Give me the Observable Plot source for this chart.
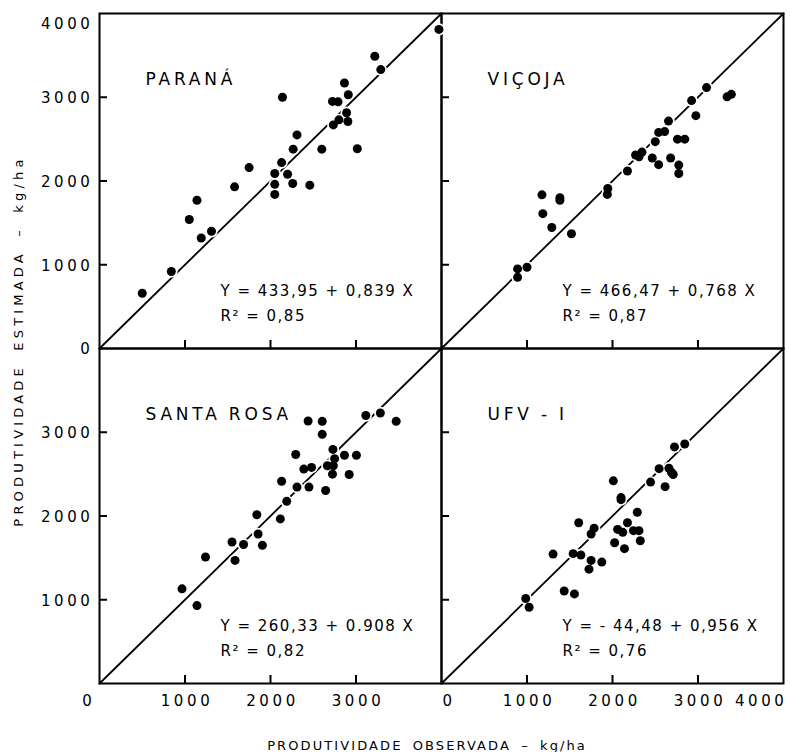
<!DOCTYPE html>
<html>
<head>
<meta charset="utf-8">
<script src="https://cdn.jsdelivr.net/npm/d3@7"></script>
<script src="https://cdn.jsdelivr.net/npm/@observablehq/plot@0.6"></script>
<style>
  html, body { margin: 0; padding: 0; background: #fff; }
  #wrap { position: relative; width: 790px; height: 752px; font-family: "DejaVu Sans", sans-serif; color: #000; }
  #wrap svg { position: absolute; left: 0; top: 0; }
  .axis-title { position: absolute; white-space: nowrap; font-size: 13px; line-height: 1; }
  #ytitle { left: 18px; top: 341px; transform: translate(-50%, -50%) rotate(-90deg); letter-spacing: 4.2px; word-spacing: 5px; }
  #xtitle { left: 427px; top: 745px; transform: translate(-50%, -50%); letter-spacing: 2.1px; word-spacing: 4px; }
  g[aria-description="tick-labels"] text { letter-spacing: 3.6px; }
  g[aria-description="panel-names"] text { letter-spacing: 3.8px; word-spacing: -1px; }
  g[aria-description="equations"] text { letter-spacing: 1.5px; }
</style>
</head>
<body>
<div id="wrap">
  <div id="ytitle" class="axis-title">PRODUTIVIDADE ESTIMADA – kg/ha</div>
  <div id="xtitle" class="axis-title">PRODUTIVIDADE OBSERVADA – kg/ha</div>
</div>
<script>
// ---- Data ----
const panels = ["PARANÁ", "VIÇOJA", "SANTA ROSA", "UFV - I"];
const panelColumn = ["L", "R", "L", "R"];
const panelRow = ["T", "T", "B", "B"];
const equations = ["Y = 433,95 + 0,839 X", "Y = 466,47 + 0,768 X", "Y = 260,33 + 0.908 X", "Y = - 44,48 + 0,956 X"];
const r2Labels = ["R² = 0,85", "R² = 0,87", "R² = 0,82", "R² = 0,76"];

const paranaObserved  = [500, 840, 1050, 1140, 1190, 1310, 1580, 1750, 2050, 2050, 2050, 2130, 2140, 2200, 2260, 2265, 2310, 2460, 2600, 2735, 2725, 2790, 2800, 2865, 2890, 2905, 2910, 3015, 3220, 3290, 3970];
const paranaEstimated = [660, 920, 1540, 1770, 1320, 1400, 1930, 2160, 2090, 1960, 1840, 2220, 3000, 2080, 1970, 2380, 2550, 1950, 2380, 2670, 2950, 2945, 2730, 3170, 2815, 2710, 3030, 2385, 3490, 3330, 3810];

const vicojaObserved  = [890, 890, 1000, 1175, 1185, 1290, 1385, 1385, 1520, 1945, 1940, 2175, 2270, 2310, 2345, 2465, 2500, 2540, 2540, 2610, 2655, 2680, 2760, 2845, 2775, 2775, 2925, 2975, 3100, 3340, 3390];
const vicojaEstimated = [950, 850, 970, 1835, 1610, 1445, 1800, 1770, 1370, 1910, 1840, 2120, 2310, 2290, 2345, 2275, 2470, 2195, 2580, 2590, 2715, 2275, 2500, 2500, 2190, 2090, 2960, 2780, 3115, 3005, 3035];

const santaRosaObserved  = [965, 1140, 1240, 1550, 1585, 1685, 1840, 1855, 1905, 2115, 2130, 2190, 2295, 2310, 2390, 2450, 2440, 2480, 2605, 2605, 2645, 2665, 2730, 2735, 2750, 2725, 2865, 2920, 3005, 3115, 3285, 3470];
const santaRosaEstimated = [1130, 930, 1510, 1690, 1470, 1660, 2015, 1785, 1650, 1965, 2415, 2175, 2735, 2345, 2560, 2345, 3135, 2580, 3130, 2975, 2305, 2600, 2795, 2600, 2685, 2500, 2725, 2495, 2725, 3200, 3230, 3130];

const ufvObserved  = [985, 1025, 1305, 1435, 1555, 1540, 1630, 1605, 1725, 1750, 1750, 1785, 1875, 2010, 2025, 2060, 2120, 2100, 2100, 2140, 2175, 2245, 2310, 2290, 2325, 2445, 2545, 2615, 2660, 2690, 2710, 2725, 2845];
const ufvEstimated = [1015, 910, 1545, 1105, 1070, 1550, 1535, 1920, 1365, 1470, 1785, 1855, 1450, 2420, 1680, 1840, 1805, 2220, 2195, 1610, 1920, 1825, 1825, 2045, 1705, 2405, 2565, 2350, 2570, 2520, 2495, 2825, 2860];

const axisDomain = [0, 4000];            // both axes, also the 1:1 line
const innerTicks = [1000, 2000, 3000];   // inward tick marks on every panel
const xTickLabels = [0, 1000, 2000, 3000, 4000];
const yTickLabels = [0, 1000, 2000, 3000, 4000];

// ---- Build tables ----
const observed = [paranaObserved, vicojaObserved, santaRosaObserved, ufvObserved];
const estimated = [paranaEstimated, vicojaEstimated, santaRosaEstimated, ufvEstimated];
const panelInfo = panels.map((name, i) => ({name, col: panelColumn[i], row: panelRow[i], eq: equations[i] + "\n" + r2Labels[i]}));
const points = panelInfo.flatMap((p, i) => observed[i].map((o, j) => ({...p, obs: o, est: estimated[i][j]})));
const diagonal = panelInfo.flatMap(p => axisDomain.map(v => ({...p, v})));
const tickRows = panelInfo.flatMap(p => innerTicks.map(v => ({...p, v})));

const [lo, hi] = axisDomain;
const xLab = [
  ...xTickLabels.filter(v => v < hi).map(v => ({v, col: "L"})),
  ...xTickLabels.map(v => ({v, col: "R"}))
];
const yLab = [
  ...yTickLabels.map(v => ({v, row: "T"})),
  ...yTickLabels.filter(v => v > lo && v < hi).map(v => ({v, row: "B"}))
];

const PW = 342, PH = 335, TL = 8;
const ink = "#000";
const tickFont = 15;
const T = "tick-labels";

const chart = Plot.plot({
  width: 790,
  height: 752,
  marginLeft: 99,
  marginRight: 7,
  marginTop: 13,
  marginBottom: 69,
  style: {fontFamily: "'DejaVu Sans', sans-serif", background: "transparent", color: ink},
  x: {domain: axisDomain, axis: null},
  y: {domain: axisDomain, axis: null},
  fx: {domain: ["L", "R"], padding: 0, axis: null},
  fy: {domain: ["T", "B"], padding: 0, axis: null},
  marks: [
    Plot.frame({stroke: ink, strokeWidth: 2}),
    Plot.ruleX(tickRows, {x: "v", fx: "col", fy: "row", insetTop: PH - TL, stroke: ink, strokeWidth: 2}),
    Plot.ruleY(tickRows, {y: "v", fx: "col", fy: "row", insetRight: PW - TL, stroke: ink, strokeWidth: 2}),
    Plot.line(diagonal, {x: "v", y: "v", z: "name", fx: "col", fy: "row", stroke: ink, strokeWidth: 1.8}),
    Plot.dot(points, {x: "obs", y: "est", fx: "col", fy: "row", r: 6.2, fill: "white"}),
    Plot.dot(points, {x: "obs", y: "est", fx: "col", fy: "row", r: 4.5, fill: ink}),
    Plot.text(panelInfo, {text: "name", fx: "col", fy: "row", frameAnchor: "top-left", dx: 46, dy: 59, lineAnchor: "top", textAnchor: "start", fontSize: 17, fill: ink, ariaDescription: "panel-names"}),
    Plot.text(panelInfo, {text: "eq", fx: "col", fy: "row", frameAnchor: "bottom-left", dx: 121, dy: -28, lineAnchor: "bottom", lineHeight: 1.65, textAnchor: "start", fontSize: 15, fill: ink, ariaDescription: "equations"}),
    Plot.text(xLab.filter(d => d.v > lo && d.v < hi), {x: "v", fx: "col", fy: () => "B", frameAnchor: "bottom", lineAnchor: "top", dy: 12, dx: 2, textAnchor: "middle", fontSize: tickFont, fill: ink, text: d => String(d.v), ariaDescription: T}),
    Plot.text(xLab.filter(d => d.v === lo && d.col === "L"), {x: "v", fx: "col", fy: () => "B", frameAnchor: "bottom", lineAnchor: "top", dy: 12, dx: -4, textAnchor: "end", fontSize: tickFont, fill: ink, text: d => String(d.v), ariaDescription: T}),
    Plot.text(xLab.filter(d => d.v === lo && d.col === "R"), {x: "v", fx: "col", fy: () => "B", frameAnchor: "bottom", lineAnchor: "top", dy: 12, dx: 1, textAnchor: "start", fontSize: tickFont, fill: ink, text: d => String(d.v), ariaDescription: T}),
    Plot.text(xLab.filter(d => d.v === hi), {x: "v", fx: "col", fy: () => "B", frameAnchor: "bottom", lineAnchor: "top", dy: 12, dx: 4, textAnchor: "end", fontSize: tickFont, fill: ink, text: d => String(d.v), ariaDescription: T}),
    Plot.text(yLab.filter(d => d.v < hi), {y: "v", fx: () => "L", fy: "row", frameAnchor: "left", textAnchor: "end", dx: -6, dy: 1, fontSize: tickFont, fill: ink, text: d => String(d.v), ariaDescription: T}),
    Plot.text(yLab.filter(d => d.v === hi), {y: "v", fx: () => "L", fy: "row", frameAnchor: "left", textAnchor: "end", lineAnchor: "top", dx: -6, dy: 5, fontSize: tickFont, fill: ink, text: d => String(d.v), ariaDescription: T})
  ]
});

document.getElementById("wrap").prepend(chart);
</script>
</body>
</html>
